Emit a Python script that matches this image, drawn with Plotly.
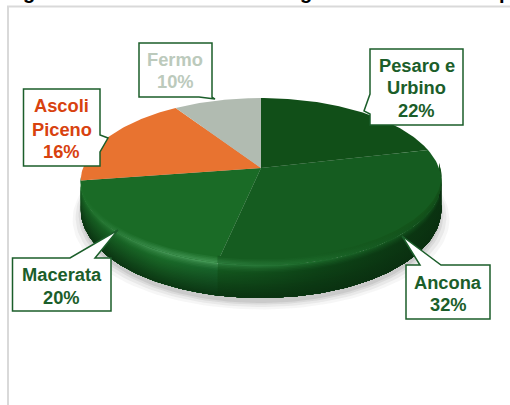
import numpy as np
import plotly.graph_objects as go

# ---- data ----
categories = ["Pesaro e Urbino", "Ancona", "Macerata", "Ascoli Piceno", "Fermo"]
shares = [22, 32, 20, 16, 10]

# ---- style / layout ----
top_colors = ["#114f18", "#155c20", "#1a6b26", "#e87330", "#b1bbb1"]
label_colors = ["#1b5e2a", "#1b5e2a", "#1b5e2a", "#d8420f", "#bccabc"]
CX, CY, B, A, K, DEPTH = 261, 168, 178, 81.3, 0.162, 33
# small view-angle correction of each slice boundary, degrees
view_skew = [0, -2.5, -2.5, -5, 3, 0]

def project(theta, d=0):
    x = CX + B * np.sin(theta) / (1 + K * np.cos(theta))
    y = CY - A * np.cos(theta) / (1 + K * np.cos(theta))
    return x, y + d * (0.8 - 0.2 * np.cos(theta))

def hexrgb(c):
    return np.array([int(c[i:i + 2], 16) for i in (1, 3, 5)], float)

def mix(a, b, t):
    v = hexrgb(a) * (1 - t) + hexrgb(b) * t
    return "rgb(%d,%d,%d)" % tuple(v)

fractions = np.cumsum([0] + shares) / sum(shares)
angles = fractions * 2 * np.pi + np.radians(view_skew)
fig = go.Figure()

# soft shadow under the pie
full = np.linspace(0, 2 * np.pi, 180)
for grow, alpha in [(8, .05), (5, .07), (2, .09), (0, .10)]:
    x, y = project(full, DEPTH + 5)
    x = CX + (x - CX) * (1 + grow / 180)
    y = y + grow * 0.8
    fig.add_trace(go.Scatter(x=x, y=y, mode="lines", fill="toself", line_width=0,
                             fillcolor=f"rgba(70,70,70,{alpha})"))

def band(i, d0, d1, stops, lim):
    a0, a1 = angles[i], angles[i + 1]
    th = np.linspace(max(a0, np.pi * 0.5), min(a1, 1.5 * np.pi), 70)
    x0, y0 = project(th, d0)
    x1, y1 = project(th, d1)
    fig.add_trace(go.Scatter(
        x=np.r_[x0, x1[::-1]], y=np.r_[y0, y1[::-1]], mode="lines", line_width=0, fill="toself",
        fillgradient=dict(type="horizontal", colorscale=stops, start=lim[0], stop=lim[1])))

def profile(d, light, dark, surface):
    if d < 0:
        return mix(surface, light, (d + 7) / 7)
    if d < 7:
        return mix(light, dark, (d / 7) ** 0.7)
    return mix(dark, "#0a2f10", (d - 7) / (DEPTH - 7) * 0.9)

def side(dmin, dmax):
    for d in np.arange(dmin, dmax, 1.5):
        # Ancona: bright at its left end, falling to dark at the right
        band(1, d, dmax, [[0, profile(d, "#2f8040", "#14591f", "#155c20")],
                          [.45, profile(d, "#1d6a2b", "#0e4417", "#155c20")],
                          [1, profile(d, "#0f4a18", "#0a3210", "#135219")]], (205, 445))
        # Macerata: brightest at the front, darker to the far left
        band(2, d, dmax, [[0, profile(d, "#1c6e28", "#155a20", "#1a6b26")],
                          [.55, profile(d, "#3f9150", "#1a6a28", "#1a6b26")],
                          [1, profile(d, "#459a56", "#17602a", "#1a6b26")]], (80, 225))

side(0, DEPTH)

# top faces of the slices
for i, name in enumerate(categories):
    th = np.linspace(angles[i], angles[i + 1], 70)
    x, y = project(th)
    fig.add_trace(go.Scatter(x=np.r_[CX, x, CX], y=np.r_[CY, y, CY], mode="lines",
                             fill="toself", fillcolor=top_colors[i], line_width=0, name=name))

side(-7, 0)

# ---- callouts (box path in page pixels, text lines centred in box) ----
callouts = [
    (0, ["Pesaro e", "Urbino", f"{shares[0]}%"], "M370,49 H463 V125 H370 V114 L364,111 L370,94 Z", 416.5, [65, 87.5, 110]),
    (1, ["Ancona", f"{shares[1]}%"], "M406,265 H420 L402,236 L441,265 H490 V319 H406 Z", 448, [282, 304]),
    (2, ["Macerata", f"{shares[2]}%"], "M12.5,258 H70 L118,230 L95,258 H111 V311 H12.5 Z", 61.5, [274, 297]),
    (3, ["Ascoli", "Piceno", f"{shares[3]}%"], "M23.5,89 H100 V135 L108,138 L100,152 V166 H23.5 Z", 61.5, [105, 129, 151]),
    (4, ["Fermo", f"{shares[4]}%"], "M139,43 H212 V97 L215,99 L199,97 H139 Z", 175, [59, 81]),
]
shapes = [
    dict(type="path", xref="x", yref="y", path="M8,405 V6.5 H510", line=dict(color="#d9d9d9", width=2), layer="below"),
]
annotations = []
for idx, lines, path, cx, ys in callouts:
    shapes.append(dict(type="path", xref="x", yref="y", path=path, fillcolor="white",
                       line=dict(color="#1b5e2a", width=1.5), layer="above"))
    for line, y in zip(lines, ys):
        annotations.append(dict(x=cx, y=y, xref="x", yref="y", text=f"<b>{line}</b>", showarrow=False,
                                xanchor="center", yanchor="middle", borderpad=0,
                                font=dict(family="Liberation Sans", size=18.3, color=label_colors[idx])))

# title cropped at the top of the picture: only descenders show
for ch, x in [("g", 29), ("g", 306), ("p", 505)]:
    annotations.append(dict(x=x, y=3.5, xref="x", yref="y", text=f"<b>{ch}</b>", showarrow=False,
                            xanchor="center", yanchor="bottom", borderpad=0,
                            font=dict(family="Liberation Sans", size=20, color="#000000")))

fig.update_layout(
    width=510, height=405, margin=dict(l=0, r=0, t=0, b=0), showlegend=False,
    paper_bgcolor="white", plot_bgcolor="white", hovermode=False,
    xaxis=dict(range=[0, 510], visible=False, fixedrange=True),
    yaxis=dict(range=[405, 0], visible=False, fixedrange=True),
    shapes=shapes, annotations=annotations,
)
fig.write_html("out.html", config={"displayModeBar": False},
               post_script="document.body.style.margin='0';document.body.style.overflow='hidden';")
